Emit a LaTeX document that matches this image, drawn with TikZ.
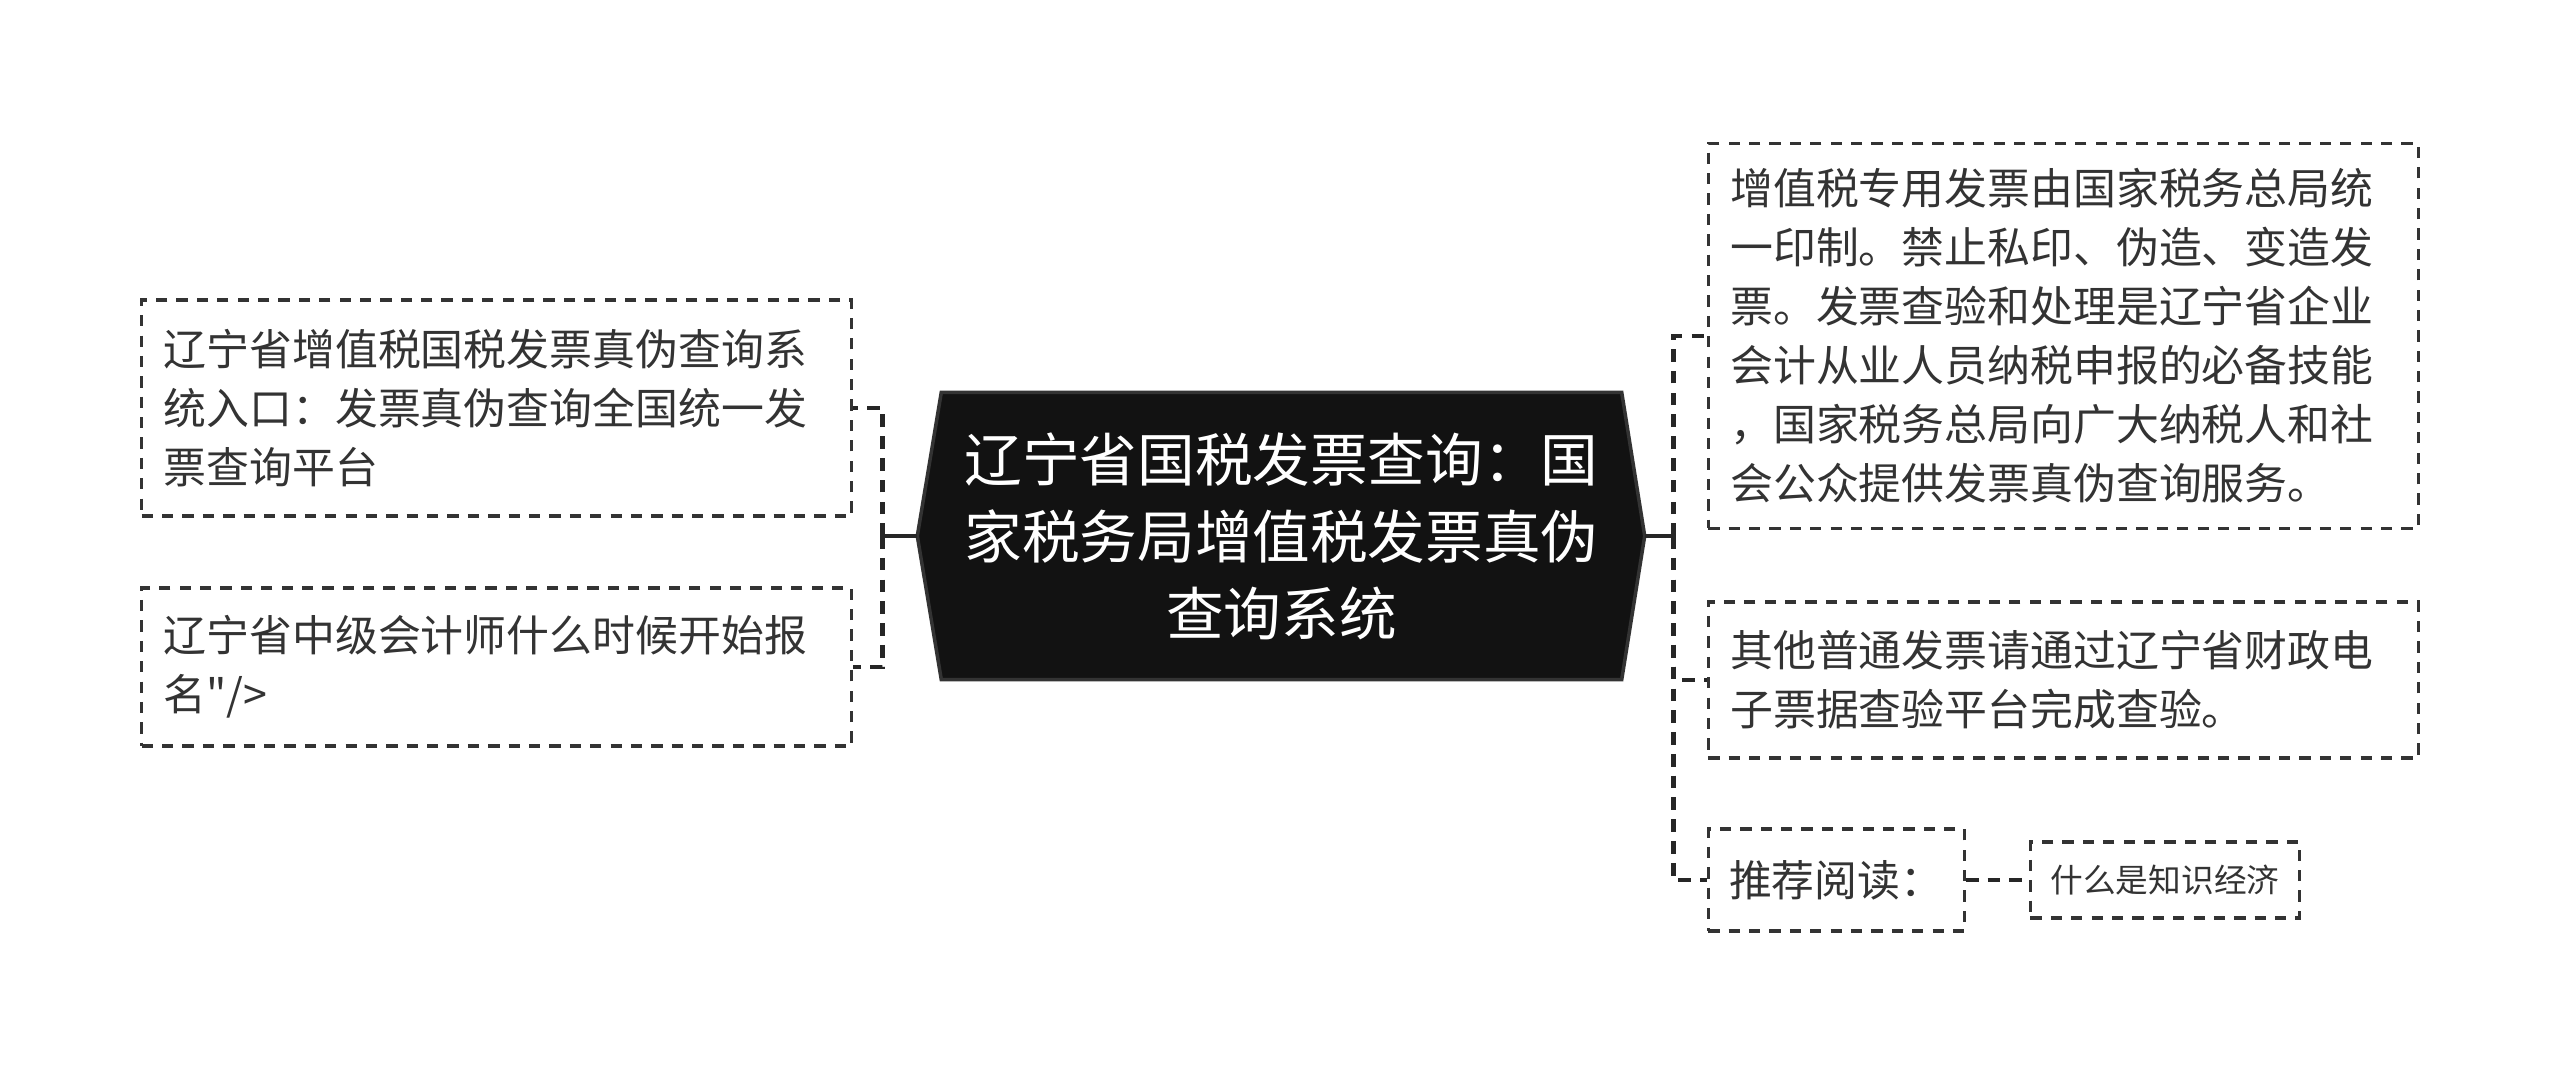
\documentclass[tikz,border=0pt]{standalone}
\usepackage{fontspec}
\setmainfont{Noto Sans CJK SC}[Ligatures=TeXOff]
\usetikzlibrary{positioning, calc, backgrounds}

\begin{document}
\begin{tikzpicture}[node distance=0.85cm,
    box/.style={draw=black!80, line width=0.9pt, dash pattern=on 3.2pt off 2.6pt, text=black!80,
        font=\fontsize{12.2}{16.8}\selectfont, inner xsep=0.22cm, align=left, text width=6.66cm},
    tag/.style={draw=black!80, line width=0.9pt, dash pattern=on 3.2pt off 2.6pt, text=black!80},
    link/.style={draw=black!85, line width=1.3pt, dash pattern=on 3.6pt off 2.6pt},
    stem/.style={draw=black!85, line width=1.3pt}]
    \useasboundingbox (0,0) rectangle (25.6,-10.75);
    % central topic
    \node[text=white, align=center, minimum width=6.79cm, minimum height=2.86cm, font=\fontsize{16.4}{21.9}\selectfont] (root) at (12.815,-5.36)
        {辽宁省国税发票查询：国\\家税务局增值税发票真伪\\查询系统};
    \coordinate (rootL) at ($(root.west)+(-0.24,0)$);
    \coordinate (rootR) at ($(root.east)+(0.23,0)$);
    \begin{scope}[on background layer]
        \filldraw[fill=black!93, draw=black!80, line width=1pt] (rootL) -- (root.north west) -- (root.north east)
            -- (rootR) -- (root.south east) -- (root.south west) -- cycle;
    \end{scope}
    % left side
    \node[box, minimum height=2.16cm, left=0.88cm of root, yshift=1.28cm] (l1)
        {辽宁省增值税国税发票真伪查询系\\统入口：发票真伪查询全国统一发\\票查询平台};
    \node[box, minimum height=1.58cm, left=0.88cm of root, yshift=-1.31cm] (l2)
        {辽宁省中级会计师什么时候开始报\\名"/>};
    % right side
    \node[box, minimum height=3.85cm, right=of root, yshift=2.0cm] (r1)
        {增值税专用发票由国家税务总局统\\一印制。禁止私印、伪造、变造发\\票。发票查验和处理是辽宁省企业\\会计从业人员纳税申报的必备技能\\，国家税务总局向广大纳税人和社\\会公众提供发票真伪查询服务。};
    \node[box, minimum height=1.56cm, right=of root, yshift=-1.44cm] (r2)
        {其他普通发票请通过辽宁省财政电\\子票据查验平台完成查验。};
    \node[tag, font=\fontsize{12.2}{16.8}\selectfont, minimum width=2.56cm, minimum height=1.02cm, right=of root, yshift=-3.44cm] (r3) {推荐阅读：};
    \node[tag, font=\fontsize{9.3}{12}\selectfont, minimum width=2.69cm, minimum height=0.76cm, right=0.63cm of r3] (r4) {什么是知识经济};
    % connectors
    \coordinate (jL) at ($(rootL)+(-0.35,0)$);
    \coordinate (jR) at ($(rootR)+(0.29,0)$);
    \draw[stem] (rootL) -- (jL);
    \draw[stem] (rootR) -- (jR);
    \draw[link] (jL) |- (l1.east);
    \draw[link] (jL) |- (l2.east);
    \draw[link] (jR) |- (r1.west);
    \draw[link] (jR) |- (r2.west);
    \draw[link] (jR) |- (r3.west);
    \draw[link] (r3) -- (r4);
\end{tikzpicture}
\end{document}
